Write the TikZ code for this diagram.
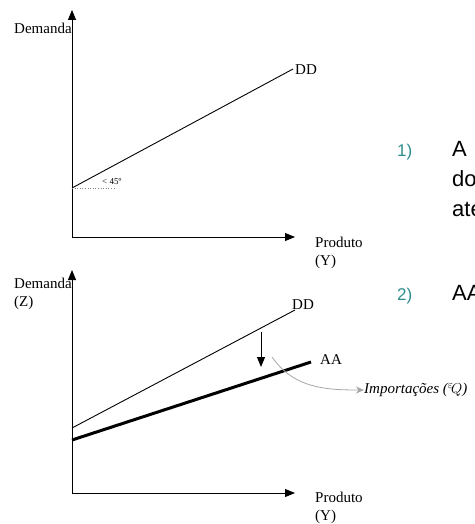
\documentclass[tikz,border=0pt]{standalone}
\usepackage{fontspec}
\setmainfont{Liberation Serif}
\setsansfont{Liberation Sans}
\usetikzlibrary{arrows.meta, positioning, calc}
\definecolor{tealnum}{RGB}{45,140,140}
\tikzset{
  axis/.style={line width=1pt, -{Triangle[length=10pt,width=8pt]}},
  curve/.style={line width=0.9pt},
  thickcurve/.style={line width=3pt},
  downshift/.style={line width=1pt, -{Triangle[length=10pt,width=8pt]}},
  importarrow/.style={line width=0.8pt, gray!70, -{Stealth[length=8pt,width=7pt]}},
  axlabel/.style={font=\fontsize{15}{18}\selectfont, inner sep=0pt, align=left},
  anglabel/.style={font=\fontsize{9}{10}\selectfont, inner sep=0pt},
  bignum/.style={font=\sffamily\fontsize{17}{20}\selectfont, text=tealnum, inner sep=0pt},
  bigtext/.style={font=\sffamily\fontsize{22}{26}\selectfont, inner sep=0pt},
}

\begin{document}
\begin{tikzpicture}[x=1pt, y=-1pt]
    \useasboundingbox (0,0) rectangle (474,524);
    %% top graph: demanda DD
    \coordinate (o1) at (72,237);
    \coordinate (ytop1) at (72,10);
    \coordinate (xend1) at (295,237);
    \coordinate (dd1a) at (72,188);
    \coordinate (dd1b) at (293,69);
    \coordinate (dot1) at (116,188);
    \draw[axis] (o1) -- (ytop1);
    \draw[axis] (o1) -- (xend1);
    \draw[curve] (dd1a) -- (dd1b);
    \draw[dotted, gray, line width=0.6pt] (dd1a) -- (dot1);
    \node[axlabel, anchor=north west] (dem1) at (14,23) {Demanda};
    \node[axlabel, anchor=west] (ddlab1) at ($(dd1b)+(2,1)$) {DD};
    \node[anglabel, anchor=west] (ang) at (102,182) {< 45º};
    \node[axlabel, anchor=north west] (prod1) at (315,237) {Produto\\(Y)};
    %% bottom graph: DD e AA
    \coordinate (o2) at (72,493);
    \coordinate (ytop2) at (72,270);
    \coordinate (xend2) at (295,493);
    \coordinate (dd2a) at (72,428);
    \coordinate (dd2b) at (295,310);
    \coordinate (aa2a) at (72,440);
    \coordinate (aa2b) at (311,362);
    \coordinate (dn1) at (261,332);
    \coordinate (dn2) at (261,367);
    \coordinate (imp1) at (272,357);
    \draw[axis] (o2) -- (ytop2);
    \draw[axis] (o2) -- (xend2);
    \draw[curve] (dd2a) -- (dd2b);
    \draw[thickcurve] (aa2a) -- (aa2b);
    \draw[downshift] (dn1) -- (dn2);
    \node[axlabel, anchor=north west] (dem2) at (14,278) {Demanda\\(Z)};
    \node[axlabel, anchor=south west] (ddlab2) at ($(dd2b)+(-3,0)$) {DD};
    \node[axlabel, anchor=west] (aalab) at (320,360) {AA};
    \node[axlabel, anchor=west] (imp) at (364,390) {\itshape Importações ($^{\varepsilon}\!Q$)};
    \draw[importarrow] (imp1) to[out=-55, in=180] (imp.west);
    \node[axlabel, anchor=north west] (prod2) at (315,492) {Produto\\(Y)};
    %% right side text
    \node[bignum, anchor=base west] (n1) at (397,156) {1)};
    \node[bigtext, anchor=base west] (t1a) at (452,156) {A};
    \node[bigtext, anchor=base west] (t1b) at (452,186) {do};
    \node[bigtext, anchor=base west] (t1c) at (452,216) {ate};
    \node[bignum, anchor=base west] (n2) at (397,300) {2)};
    \node[bigtext, anchor=base west] (t2) at (452,300) {AA};
\end{tikzpicture}
\end{document}
